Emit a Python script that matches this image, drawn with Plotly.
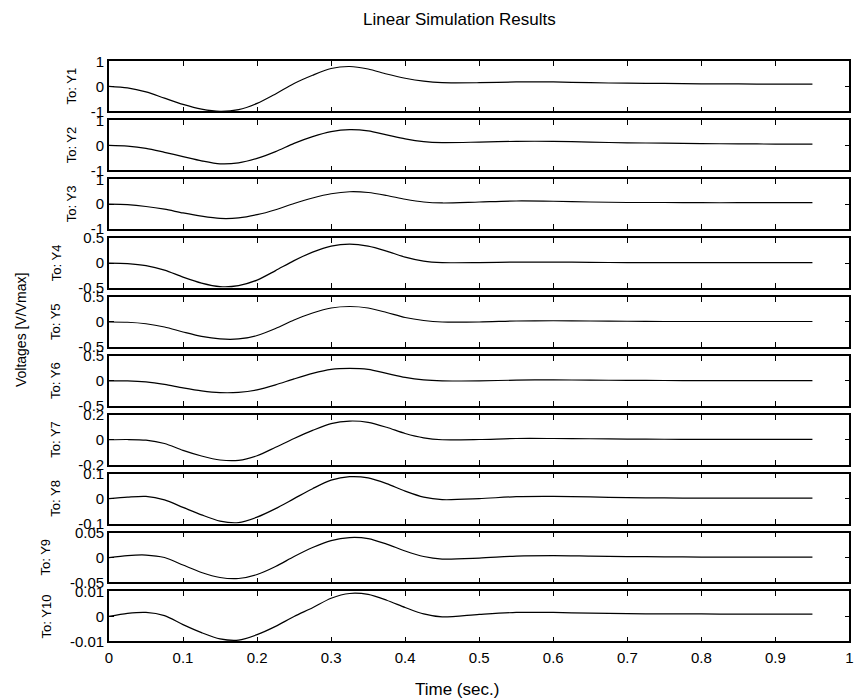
import plotly.graph_objects as go

# ---- text ----
title_text = "Linear Simulation Results"
x_title = "Time (sec.)"
y_title = "Voltages [V/Vmax]"
output_names = ["To: Y1", "To: Y2", "To: Y3", "To: Y4", "To: Y5",
                "To: Y6", "To: Y7", "To: Y8", "To: Y9", "To: Y10"]

# ---- simulated responses (time in seconds) ----
t = [0, 0.025, 0.05, 0.075, 0.1, 0.125, 0.15, 0.175, 0.2, 0.225, 0.25, 0.275,
     0.3, 0.325, 0.35, 0.375, 0.4, 0.425, 0.45, 0.5, 0.55, 0.6, 0.65, 0.7,
     0.75, 0.8, 0.85, 0.9, 0.95]

y1 = [0, -0.06, -0.22, -0.47, -0.72, -0.91, -1.0, -0.93, -0.68, -0.3, 0.12, 0.45,
      0.72, 0.8, 0.7, 0.5, 0.33, 0.21, 0.15, 0.15, 0.18, 0.18, 0.15, 0.13,
      0.12, 0.1, 0.1, 0.09, 0.09]
y2 = [0, -0.03, -0.12, -0.28, -0.45, -0.62, -0.74, -0.7, -0.52, -0.25, 0.08, 0.35,
      0.55, 0.63, 0.58, 0.42, 0.26, 0.15, 0.11, 0.13, 0.16, 0.16, 0.13, 0.1,
      0.09, 0.07, 0.06, 0.05, 0.05]
y3 = [0, -0.02, -0.09, -0.2, -0.35, -0.48, -0.57, -0.55, -0.42, -0.22, 0.03, 0.25,
      0.42, 0.5, 0.47, 0.35, 0.2, 0.09, 0.05, 0.09, 0.13, 0.12, 0.09, 0.07,
      0.07, 0.06, 0.06, 0.06, 0.06]
y4 = [0, -0.01, -0.05, -0.14, -0.28, -0.4, -0.47, -0.45, -0.34, -0.15, 0.05, 0.22,
      0.34, 0.38, 0.34, 0.24, 0.12, 0.04, 0.01, 0.01, 0.02, 0.02, 0.015, 0.01,
      0.01, 0.01, 0.01, 0.01, 0.01]
y5 = [0, -0.005, -0.035, -0.1, -0.2, -0.29, -0.34, -0.34, -0.27, -0.13, 0.04, 0.18,
      0.28, 0.31, 0.28, 0.19, 0.09, 0.03, 0.0, 0.0, 0.02, 0.025, 0.02, 0.015,
      0.01, 0.01, 0.01, 0.01, 0.01]
y6 = [0, 0.0, -0.02, -0.07, -0.14, -0.2, -0.235, -0.23, -0.18, -0.08, 0.04, 0.15,
      0.23, 0.25, 0.23, 0.15, 0.07, 0.02, 0.0, 0.0, 0.015, 0.02, 0.015, 0.01,
      0.008, 0.006, 0.005, 0.005, 0.005]
y7 = [0, 0.002, -0.003, -0.03, -0.085, -0.13, -0.162, -0.165, -0.128, -0.06, 0.01, 0.075,
      0.13, 0.15, 0.14, 0.1, 0.05, 0.015, 0.0, 0.002, 0.01, 0.01, 0.008, 0.005,
      0.004, 0.003, 0.003, 0.003, 0.003]
y8 = [0, 0.006, 0.009, -0.005, -0.035, -0.065, -0.09, -0.096, -0.074, -0.04, 0.0, 0.04,
      0.074, 0.088, 0.083, 0.06, 0.03, 0.006, -0.004, 0.0, 0.008, 0.009, 0.007, 0.004,
      0.003, 0.002, 0.002, 0.002, 0.002]
y9 = [0, 0.004, 0.005, 0.0, -0.015, -0.03, -0.04, -0.042, -0.034, -0.018, 0.002, 0.02,
      0.034, 0.04, 0.038, 0.027, 0.013, 0.002, -0.003, -0.001, 0.003, 0.004, 0.003, 0.002,
      0.0015, 0.001, 0.001, 0.001, 0.001]
y10 = [0, 0.0012, 0.0016, 0.0003, -0.0033, -0.0065, -0.009, -0.0095, -0.0073, -0.004, 0.0, 0.0035,
       0.0073, 0.0092, 0.0088, 0.0065, 0.0036, 0.001, -0.0002, 0.0008, 0.0016, 0.0016, 0.0013, 0.0011,
       0.001, 0.001, 0.0009, 0.0009, 0.0009]

responses = [y1, y2, y3, y4, y5, y6, y7, y8, y9, y10]

# ---- axis scales and tick labels ----
y_limits = [1, 1, 1, 0.5, 0.5, 0.5, 0.2, 0.1, 0.05, 0.01]
y_tick_text = [["-1", "0", "1"], ["-1", "0", "1"], ["-1", "0", "1"],
               ["-0.5", "0", "0.5"], ["-0.5", "0", "0.5"], ["-0.5", "0", "0.5"],
               ["-0.2", "0", "0.2"], ["-0.1", "0", "0.1"],
               ["-0.05", "0", "0.05"], ["-0.01", "0", "0.01"]]
x_tick_vals = [0, 0.1, 0.2, 0.3, 0.4, 0.5, 0.6, 0.7, 0.8, 0.9, 1.0]
x_tick_text = ["0", "0.1", "0.2", "0.3", "0.4", "0.5", "0.6", "0.7", "0.8", "0.9", "1"]

# ---- page geometry ----
W, H = 856, 700
LEFT, RIGHT = 108, 849.5
TOP0, PITCH, PANEL_H = 61, 59, 50
name_x_px = [70, 70, 70, 55, 55, 55, 55, 55, 44, 45]

# viewport calibration: displayed pixel -> figure pixel
SX, OX = 0.992, 2.9
SY, OY = 0.9776, 8.4


def px_x(p):
    return ((p - OX) / SX) / W


def px_y(p):
    return 1 - ((p - OY) / SY) / H


FONT = "Liberation Sans, Arial, Helvetica, sans-serif"

fig = go.Figure()
layout = dict(
    width=W, height=H,
    margin=dict(l=0, r=0, t=0, b=0),
    paper_bgcolor="white", plot_bgcolor="white",
    showlegend=False,
    font=dict(family=FONT, color="black"),
    annotations=[],
)

n = len(responses)
for i, (vals, lim, ytxt) in enumerate(zip(responses, y_limits, y_tick_text)):
    k = i + 1
    top = TOP0 + i * PITCH
    bottom = top + PANEL_H
    fig.add_trace(go.Scatter(
        x=t, y=vals, mode="lines",
        line=dict(color="black", width=1.2, shape="spline", smoothing=0.8),
        xaxis=f"x{k}", yaxis=f"y{k}", hoverinfo="skip",
    ))
    layout[f"xaxis{k}"] = dict(
        domain=[px_x(LEFT), min(px_x(RIGHT), 1.0)], range=[0, 1], anchor=f"y{k}",
        tickvals=x_tick_vals, ticktext=x_tick_text,
        ticks="inside", ticklen=5, tickwidth=1, tickcolor="black",
        showline=True, linecolor="black", linewidth=1.5, mirror="ticks",
        showgrid=False, zeroline=False,
        showticklabels=(k == n), ticklabelstandoff=2, ticklabeloverflow="allow",
        tickfont=dict(size=15, color="black", family=FONT),
    )
    layout[f"yaxis{k}"] = dict(
        domain=[px_y(bottom), px_y(top)], range=[-lim, lim], anchor=f"x{k}",
        tickvals=[-lim, 0, lim], ticktext=ytxt,
        ticks="inside", ticklen=5, tickwidth=1, tickcolor="black",
        showline=True, linecolor="black", linewidth=1.5, mirror="ticks",
        showgrid=False, zeroline=False,
        tickfont=dict(size=15, color="black", family=FONT),
    )
    layout["annotations"].append(dict(
        text=output_names[i], textangle=-90,
        x=px_x(name_x_px[i]), y=px_y(top + PANEL_H / 2),
        xref="paper", yref="paper", xanchor="center", yanchor="middle",
        showarrow=False, font=dict(size=13, color="black", family=FONT),
    ))

layout["annotations"] += [
    dict(text=title_text, x=px_x(459), y=px_y(19), xref="paper", yref="paper",
         xanchor="center", yanchor="middle", showarrow=False,
         font=dict(size=17, color="black", family=FONT)),
    dict(text=x_title, x=px_x(457), y=px_y(690), xref="paper", yref="paper",
         xanchor="center", yanchor="middle", showarrow=False,
         font=dict(size=17, color="black", family=FONT)),
    dict(text=y_title, textangle=-90, x=px_x(20), y=px_y(330), xref="paper", yref="paper",
         xanchor="center", yanchor="middle", showarrow=False,
         font=dict(size=14, color="black", family=FONT)),
]

fig.update_layout(**layout)
fig.write_html("out.html")
